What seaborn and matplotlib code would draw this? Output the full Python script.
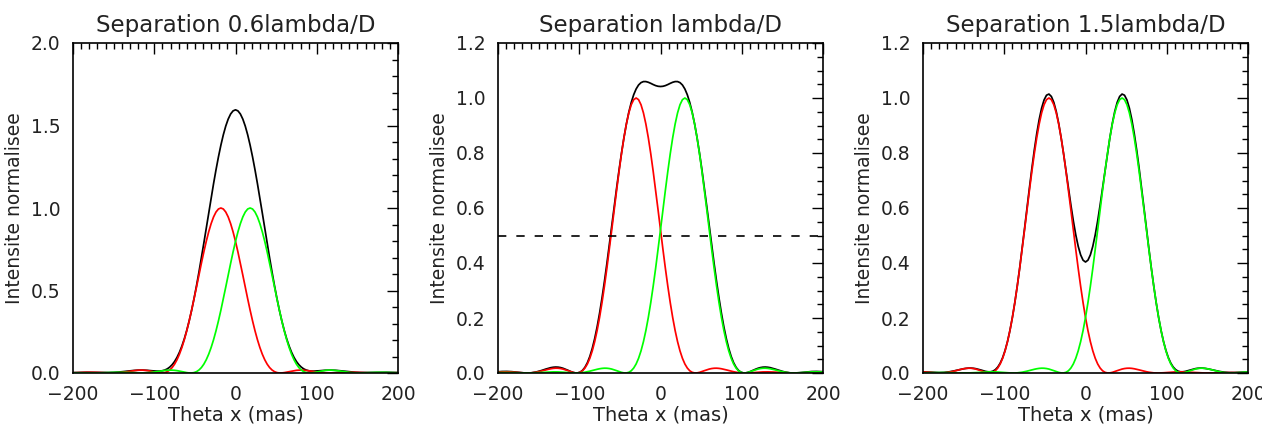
import numpy as np
import matplotlib
matplotlib.use("Agg")
import matplotlib.pyplot as plt
import seaborn as sns
from matplotlib.ticker import MultipleLocator

# Normalised PSF profile, one value every 3 mas from the peak outwards
step_mas = 3
profile = [1.0, 0.9939, 0.9756, 0.9458, 0.9053, 0.8554, 0.7975, 0.7332, 0.6645,
           0.5931, 0.5209, 0.4495, 0.3806, 0.3157, 0.2558, 0.2018, 0.1544, 0.1139,
           0.0803, 0.0534, 0.0328, 0.0180, 0.0081, 0.0025, 0.0002, 0.0004, 0.0023,
           0.0052, 0.0085, 0.0116, 0.0143, 0.0162, 0.0173, 0.0175, 0.0168, 0.0154,
           0.0135, 0.0113, 0.0090, 0.0067, 0.0046, 0.0028, 0.0015, 0.0005, 0.0001,
           0.0000, 0.0003, 0.0008, 0.0015, 0.0022, 0.0029, 0.0035, 0.0039, 0.0041,
           0.0041, 0.0040, 0.0036, 0.0031, 0.0026, 0.0019, 0.0014, 0.0009, 0.0005,
           0.0002, 0.0000, 0.0000, 0.0001, 0.0003, 0.0005, 0.0008, 0.0010, 0.0013,
           0.0014, 0.0016, 0.0016, 0.0015, 0.0014, 0.0013, 0.0011, 0.0009, 0.0006,
           0.0004, 0.0002, 0.0001, 0.0000]

# Separation of the two sources for each panel (mas)
separations = [36, 60, 90]
titles = ["Separation 0.6lambda/D", "Separation lambda/D", "Separation 1.5lambda/D"]
y_max = [2.0, 1.2, 1.2]
y_major = [0.5, 0.2, 0.2]
y_minor = [0.1, 0.05, 0.05]
half_level = 0.5  # dashed line, middle panel only

x_ticks = [-200, -100, 0, 100, 200]

sns.set_style("white")
plt.rcParams["font.family"] = ["DejaVu Sans"]

fig = plt.figure(figsize=(12.62, 4.30), dpi=100)
lefts = [73, 498, 923]

full = np.array(profile[::-1] + profile[1:])
n = len(profile) - 1
offsets = np.arange(-n, n + 1) * step_mas

for i, sep in enumerate(separations):
    ax = fig.add_axes([lefts[i] / 1262, 57 / 430, 325 / 1262, 330 / 430])
    h = sep / 2
    s = sep // step_mas
    red_x = offsets - h
    green_x = offsets + h
    # black curve: sum of the two sources
    sum_x = red_x[s:]
    sum_y = full[s:] + full[:-s]

    sns.lineplot(x=sum_x, y=sum_y, color="black", lw=1.25, ax=ax)
    sns.lineplot(x=red_x, y=full, color="#ff0000", lw=1.25, ax=ax)
    sns.lineplot(x=green_x, y=full, color="#00ff00", lw=1.25, ax=ax)
    if i == 1:
        ax.plot([-200, 200], [half_level, half_level], color="black",
                lw=1.2, dashes=(5, 6))

    ax.set_xlim(-200, 200)
    ax.set_ylim(0, y_max[i])
    ax.set_xticks(x_ticks)
    ax.xaxis.set_minor_locator(MultipleLocator(10))
    ax.yaxis.set_major_locator(MultipleLocator(y_major[i]))
    ax.yaxis.set_minor_locator(MultipleLocator(y_minor[i]))
    ax.yaxis.set_major_formatter(plt.FormatStrFormatter("%.1f"))
    ax.tick_params(which="both", direction="in", top=True, right=True,
                   color="black", width=1.0)
    ax.tick_params(which="major", length=8, labelsize=13.5, pad=9,
                   labelcolor="#222222")
    ax.tick_params(which="minor", length=4)
    for sp in ax.spines.values():
        sp.set_color("black")
        sp.set_linewidth(1.2)

    ax.set_title(titles[i], fontsize=16.5, pad=8, color="#222222")
    ax.set_xlabel("Theta x (mas)", fontsize=14, labelpad=1, color="#222222")
    ax.set_ylabel("Intensite normalisee", fontsize=13.5, labelpad=5,
                  color="#222222")

fig.savefig("out.png", dpi=100, facecolor="white")
